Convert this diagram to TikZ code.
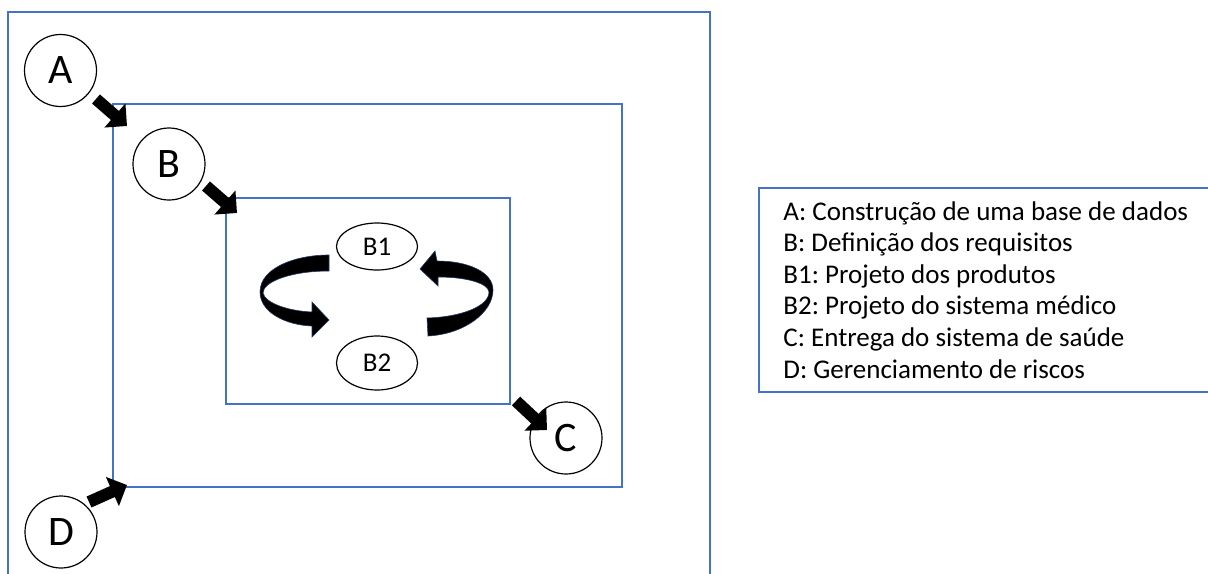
\documentclass[tikz,border=0pt]{standalone}
\usepackage{fontspec}
\setmainfont{Carlito}
\usetikzlibrary{arrows.meta,shapes.geometric}
\definecolor{frameblue}{HTML}{4472C4}
\definecolor{outlinenavy}{HTML}{1F3864}
\frenchspacing
\begin{document}
\begin{tikzpicture}[x=0.5pt,y=-0.5pt,
  frame/.style={draw=frameblue,line width=0.8pt},
  bigcirc/.style={circle,draw=black,line width=0.6pt,minimum size=36pt,inner sep=0pt,font=\fontsize{21}{21}\selectfont},
  smallell/.style={ellipse,draw=black,line width=0.6pt,minimum width=40.5pt,inner sep=0pt,font=\fontsize{13.5}{13.5}\selectfont},
  blockarrow/.style={line width=6pt,-{Triangle[length=8pt,width=15.5pt]},black},
  legendtext/.style={anchor=base west,inner sep=0pt,font=\fontsize{13.5}{13.5}\selectfont},
  curvedarrow/.style={fill=black,draw=outlinenavy,line width=0.3pt}]
\useasboundingbox (0,0) rectangle (1208,573);
% frames
\draw[frame] (8,590) -- (8,12) -- (710,12) -- (710,590);
\draw[frame] (113,104) rectangle (622,487);
\draw[frame] (226,198) rectangle (510,404);
\draw[frame] (1220,188) -- (759,188) -- (759,392) -- (1220,392);
% nodes
\node[bigcirc] (A) at (60.5,70.5) {A};
\node[bigcirc] (B) at (169,164) {B};
\node[bigcirc] (C) at (566,438) {C};
\node[bigcirc] (D) at (61,532) {D};
\node[smallell,minimum height=23.5pt] (B1) at (377,246.5) {B1};
\node[smallell,minimum height=27pt] (B2) at (377,363) {B2};
% block arrows
\coordinate (aT) at (96,99);   \coordinate (aH) at (127,126);
\coordinate (bT) at (206,186); \coordinate (bH) at (237,213);
\coordinate (cT) at (516,401); \coordinate (cH) at (547,430);
\coordinate (dT) at (89,502);  \coordinate (dH) at (127,485);
\draw[blockarrow] (aT) -- (aH);
\draw[blockarrow] (bT) -- (bH);
\draw[blockarrow] (cT) -- (cH);
\draw[blockarrow] (dT) -- (dH);
% curved arrows
\path[curvedarrow] (329,255) .. controls (295,255) and (260,268) .. (260,292)
  .. controls (260,312) and (285,325) .. (312,326)
  -- (312,337) -- (329,320) -- (312,302) -- (312,312)
  .. controls (288,311) and (265,303) .. (263,293)
  .. controls (263,282) and (290,271) .. (329,271) -- cycle;
\path[curvedarrow] (428,336) .. controls (465,334) and (493,312) .. (493,290)
  .. controls (493,272) and (468,261) .. (437,261)
  -- (435,251) -- (420,269) -- (438,286) -- (438,277)
  .. controls (466,277) and (488,283) .. (489,292)
  .. controls (489,306) and (462,317) .. (427,318) -- cycle;
% legend
\node[legendtext] (l1) at (783,220) {A: Construção de uma base de dados};
\node[legendtext] (l2) at (783,251.6) {B: Definição dos requisitos};
\node[legendtext] (l3) at (783,283.2) {B1: Projeto dos produtos};
\node[legendtext] (l4) at (783,314.8) {B2: Projeto do sistema médico};
\node[legendtext] (l5) at (783,346.4) {C: Entrega do sistema de saúde};
\node[legendtext] (l6) at (783,378) {D: Gerenciamento de riscos};
\end{tikzpicture}
\end{document}
